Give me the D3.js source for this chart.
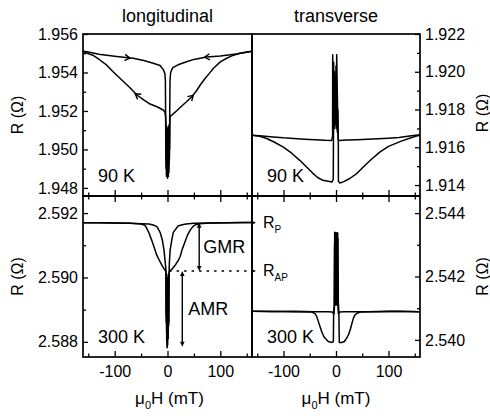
<!DOCTYPE html>
<html>
<head>
<meta charset="utf-8">
<script src="https://cdn.jsdelivr.net/npm/d3@7"></script>
<style>
  body { margin: 0; background: #fff; }
  text { font-family: "Liberation Sans", Arial, Helvetica, sans-serif; fill: #000; }
</style>
</head>
<body>
<script>
var w = 490, h = 418;
// panel frame edges
var xa = 83, xb = 252, xc = 420;
var ya = 34, yb = 196, yc = 357;

var fieldDomain = [-160, 160];
var fieldMajor = [-100, 0, 100];
var fieldMinor = [-150, -50, 50, 150];

// field sweeps, [mu0H (mT), R (Ohm)]
var lon90Up = [[-160,1.95510],[-152,1.95508],[-130,1.95495],[-100,1.95484],[-75,1.95476],[-65,1.95474],[-45,1.95462],
  [-27,1.95448],[-14,1.95436],[-8,1.95415],[-5,1.95395],[-4,1.9536],[-3.5,1.9515],[-3,1.9490],[-2.5,1.9510],
  [-2,1.9486],[-1.5,1.9512],[-1,1.9487],[-0.5,1.9510],[0,1.9485],[0.5,1.9511],[1,1.9487],[1.5,1.9509],[2,1.9490],
  [2.5,1.9512],[3,1.9492],[3.5,1.9510],[4,1.9500],[4.6,1.9516],[6,1.95175],
  [8,1.95178],[15,1.95195],[27,1.95226],[36,1.95248],[46,1.95274],[55,1.95305],[62,1.95335],[70,1.95365],
  [80,1.95398],[87,1.95422],[100,1.95455],[112,1.95474],[125,1.95490],[137,1.95500],[150,1.95506],[160,1.95510]];
var lon90Down = [[160,1.95510],[150,1.95505],[130,1.95496],[100,1.95486],[74,1.95480],[50,1.95468],[36,1.95456],
  [20,1.95440],[10,1.95425],[6,1.95400],[4.8,1.9536],[4.2,1.9518],[3.7,1.9495],[3.2,1.9513],[2.7,1.9488],
  [2.2,1.9511],[1.7,1.9486],[1.2,1.9510],[0.7,1.9487],[0.2,1.9511],[-0.3,1.9486],[-0.8,1.9509],[-1.3,1.9489],
  [-1.8,1.9510],[-2.3,1.9494],[-2.8,1.9512],[-3.4,1.9517],[-5,1.95195],[-8,1.95205],
  [-20,1.95222],[-33,1.95236],[-45,1.95258],[-58,1.95283],[-70,1.95318],[-80,1.95344],[-92,1.95375],
  [-103,1.95404],[-115,1.95438],[-128,1.95465],[-140,1.95488],[-152,1.95500],[-160,1.95510]];

var tr90Up = [[-160,1.91664],[-140,1.91660],[-120,1.91655],[-100,1.91650],[-80,1.91647],[-60,1.91643],[-40,1.91640],
  [-20,1.91637],[-8,1.91636],[-6.5,1.9166],[-6.3,1.9209],[-5.5,1.9185],[-4.5,1.9205],[-3.5,1.9178],[-2.5,1.9200],
  [-1.5,1.9172],[-0.5,1.9195],[0.5,1.9170],[1.5,1.9190],[2.5,1.9168],[3.5,1.9180],[4.4,1.9165],[4.6,1.9142],
  [7.6,1.91411],[15,1.91418],[27,1.91436],[40,1.91462],[52,1.91496],[68,1.91538],[84,1.91576],[100,1.91605],
  [122,1.91630],[140,1.91648],[153,1.91659],[160,1.91664]];
var tr90Down = [[160,1.91666],[140,1.91660],[120,1.91652],[100,1.91648],[80,1.91645],[60,1.91642],[40,1.91640],
  [20,1.91638],[6,1.91636],[4,1.9164],[1.3,1.9209],[0.8,1.9180],[0,1.9203],[-1,1.9174],[-2,1.9198],[-3,1.9170],
  [-4,1.9190],[-4.8,1.9166],[-5.2,1.9143],[-8,1.91416],[-15,1.91420],[-25,1.91425],[-35,1.91440],[-44,1.91462],
  [-57,1.91498],[-69,1.91531],[-85,1.91570],[-101,1.91602],[-118,1.91628],[-131,1.91645],[-145,1.91658],[-160,1.91664]];

var lon300Up = [[-160,2.59170],[-130,2.59170],[-100,2.59169],[-70,2.59168],[-50,2.59167],[-35,2.59166],[-27,2.59163],
  [-20,2.59158],[-14,2.59140],[-10,2.59118],[-6.6,2.59085],[-4.5,2.59050],[-3,2.59025],[-2.5,2.5886],[-2,2.5901],
  [-1.5,2.5880],[-1,2.5900],[-0.5,2.58785],[0,2.5899],[0.5,2.5881],[1,2.5900],[1.5,2.5884],[2,2.5901],
  [2.5,2.5886],[3,2.59010],[3.5,2.59018],[8,2.59025],
  [14,2.59037],[20,2.59052],[24,2.59065],[28,2.59088],[33,2.59110],[38,2.59132],[43,2.59147],[48,2.59158],
  [52,2.59163],[60,2.59167],[80,2.59169],[110,2.59170],[140,2.59171],[160,2.59171]];
var lon300Down = [[160,2.59171],[120,2.59170],[80,2.59169],[50,2.59168],[35,2.59166],[28,2.59164],[20,2.59160],
  [11,2.59140],[8,2.59115],[5,2.59085],[3.5,2.59045],[2.8,2.5900],[2.3,2.5885],[1.8,2.5901],[1.3,2.5881],
  [0.8,2.5900],[0.3,2.5879],[-0.2,2.5900],[-0.7,2.58782],[-1.2,2.5899],[-1.7,2.5883],[-2.2,2.5901],[-2.7,2.5888],
  [-3,2.59018],[-7,2.59028],[-11,2.59039],[-16,2.59055],
  [-20.5,2.59070],[-25,2.59092],[-30,2.59116],[-35,2.59138],[-40,2.59155],[-43,2.59162],[-50,2.59166],
  [-70,2.59168],[-100,2.59169],[-130,2.59170],[-160,2.59170]];

var tr300Up = [[-160,2.54090],[-120,2.54089],[-80,2.54090],[-40,2.54089],[-15,2.54089],[-7,2.54088],[-4,2.54082],
  [-3,2.54100],[-2.5,2.54340],[-1.8,2.5412],[-1.2,2.54335],[-0.6,2.5412],[0,2.54338],[0.6,2.5413],[1.2,2.54336],
  [1.8,2.5412],[2.4,2.5433],[3,2.5412],[3.6,2.5432],[4.4,2.5412],[5.5,2.54085],[6.3,2.53992],[11,2.53992],[16,2.53995],[20,2.54005],[24,2.54017],
  [27,2.54031],[30,2.54050],[33,2.54068],[36,2.54078],[40,2.54084],[46,2.54088],[60,2.54089],[100,2.54090],[160,2.54089]];
var tr300Down = [[160,2.54089],[120,2.54090],[80,2.54089],[40,2.54089],[15,2.54089],[7,2.54088],[4.5,2.54082],
  [3.8,2.54100],[3.2,2.54338],[2.6,2.5412],[2,2.54335],[1.4,2.5411],[0.8,2.54337],[0.2,2.5412],[-0.4,2.54332],
  [-1,2.5411],[-1.6,2.5433],[-2.2,2.5411],[-2.8,2.5430],
  [-3.4,2.5411],[-4.5,2.54086],[-5,2.53994],[-8,2.53992],[-14.6,2.53995],[-19,2.54002],[-23,2.54010],[-27,2.54025],
  [-30.5,2.54042],[-34,2.54060],[-37,2.54075],[-40,2.54083],[-46,2.54088],[-80,2.54089],[-120,2.54090],[-160,2.54090]];

// y ticks
var lon90Ticks = [1.948, 1.950, 1.952, 1.954, 1.956];
var lon90Minor = [1.949, 1.951, 1.953, 1.955];
var tr90Ticks = [1.914, 1.916, 1.918, 1.920, 1.922];
var tr90Minor = [1.915, 1.917, 1.919, 1.921];
var lon300Ticks = [2.588, 2.590, 2.592];
var lon300Minor = [2.589, 2.591];
var tr300Ticks = [2.540, 2.542, 2.544];
var tr300Minor = [2.541, 2.543];

// sweep direction arrows on the 90 K longitudinal loop
var lonArrows = [['up', -75], ['up', 46], ['down', 74], ['down', -58]];

// GMR / AMR annotation levels
var rP = 2.5917, rAP = 2.5902, rMin = 2.58785;
var gmrField = 60, amrField = 28, dashStart = 3;

var panels = [
  {up: lon90Up, down: lon90Down, dom: [1.94758, 1.956], ticks: lon90Ticks, minor: lon90Minor, col: 0, row: 0, temp: '90 K'},
  {up: tr90Up, down: tr90Down, dom: [1.91342, 1.922], ticks: tr90Ticks, minor: tr90Minor, col: 1, row: 0, temp: '90 K'},
  {up: lon300Up, down: lon300Down, dom: [2.58753, 2.59253], ticks: lon300Ticks, minor: lon300Minor, col: 0, row: 1, temp: '300 K'},
  {up: tr300Up, down: tr300Down, dom: [2.53946, 2.54454], ticks: tr300Ticks, minor: tr300Minor, col: 1, row: 1, temp: '300 K'}
];

var svg = d3.select("body").append("svg")
  .attr("width", w)
  .attr("height", h);

function styleAxis(g) {
  g.select('.domain').remove();
  g.selectAll('line').attr('stroke', '#000').attr('stroke-width', 1.3);
  g.selectAll('text').attr('font-size', 16).attr('fill', '#000')
    .style('font-family', '"Liberation Sans", Arial, sans-serif');
}

panels.forEach(function (p) {
  var left = p.col ? xb : xa, right = p.col ? xc : xb;
  var top = p.row ? yb : ya, bottom = p.row ? yc : yb;
  var xs = d3.scaleLinear().domain(fieldDomain).range([left, right]);
  var ys = d3.scaleLinear().domain(p.dom).range([bottom, top]);
  p.x = xs; p.y = ys;

  var g = svg.append('g');

  // y axis on the outer side, ticks pointing inward
  var yMaj = (p.col ? d3.axisRight(ys) : d3.axisLeft(ys))
    .tickValues(p.ticks).tickSize(-5).tickPadding(5).tickFormat(d3.format('.3f'));
  var yMin = (p.col ? d3.axisRight(ys) : d3.axisLeft(ys))
    .tickValues(p.minor).tickSize(-3).tickFormat('');
  var yx = p.col ? right : left;
  g.append('g').attr('transform', 'translate(' + yx + ',0)').call(yMaj).call(styleAxis);
  g.append('g').attr('transform', 'translate(' + yx + ',0)').call(yMin).call(styleAxis);

  // x ticks on the bottom edge
  var xMaj = d3.axisBottom(xs).tickValues(fieldMajor).tickSize(-6).tickPadding(9)
    .tickFormat(p.row ? function (d) { return String(d); } : '');
  var xMin = d3.axisBottom(xs).tickValues(fieldMinor).tickSize(-3.5).tickFormat('');
  g.append('g').attr('transform', 'translate(0,' + bottom + ')').call(xMaj).call(styleAxis);
  g.append('g').attr('transform', 'translate(0,' + bottom + ')').call(xMin).call(styleAxis);
  if (p.row) {
    g.append('g').attr('transform', 'translate(0,' + top + ')')
      .call(d3.axisTop(xs).tickValues(fieldMajor).tickSize(-6).tickFormat('')).call(styleAxis);
    g.append('g').attr('transform', 'translate(0,' + top + ')')
      .call(d3.axisTop(xs).tickValues(fieldMinor).tickSize(-3.5).tickFormat('')).call(styleAxis);
  }

  var line = d3.line().x(function (d) { return xs(d[0]); }).y(function (d) { return ys(d[1]); });
  g.selectAll('path.curve')
    .data([p.up, p.down])
    .join('path')
    .attr('class', 'curve')
    .attr('d', line)
    .attr('fill', 'none')
    .attr('stroke', '#000')
    .attr('stroke-width', 1.5)
    .attr('stroke-linejoin', 'round');

  g.append('rect')
    .attr('x', left).attr('y', top)
    .attr('width', right - left).attr('height', bottom - top)
    .attr('fill', 'none').attr('stroke', '#000').attr('stroke-width', 1.7);

  g.append('text')
    .attr('x', left + 15).attr('y', bottom - 14)
    .attr('font-size', 18)
    .text(p.temp);
});

// open chevrons showing the sweep direction
function chevron(pts, hAt, xs, ys) {
  for (var i = 0; i < pts.length - 1; i++) {
    var a = pts[i], b = pts[i + 1];
    if ((a[0] - hAt) * (b[0] - hAt) <= 0 && a[0] !== b[0]) {
      var t = (hAt - a[0]) / (b[0] - a[0]);
      var ax = xs(a[0]), ay = ys(a[1]), bx = xs(b[0]), by = ys(b[1]);
      var px = ax + t * (bx - ax), py = ay + t * (by - ay);
      var ang = Math.atan2(by - ay, bx - ax);
      var L = 6, s = 0.55;
      var tx = px + 2 * Math.cos(ang), ty = py + 2 * Math.sin(ang);
      svg.append('path')
        .attr('d', 'M' + (tx - L * Math.cos(ang - s)) + ',' + (ty - L * Math.sin(ang - s)) +
          'L' + tx + ',' + ty +
          'L' + (tx - L * Math.cos(ang + s)) + ',' + (ty - L * Math.sin(ang + s)))
        .attr('fill', 'none').attr('stroke', '#000').attr('stroke-width', 1.4);
      return;
    }
  }
}
lonArrows.forEach(function (a) {
  var p = panels[0];
  chevron(a[0] === 'up' ? p.up : p.down, a[1], p.x, p.y);
});

// filled arrow head with tip at (x, y) pointing along angle
function head(x, y, ang) {
  var L = 5, hw = 2.3;
  var bx = x - L * Math.cos(ang), by = y - L * Math.sin(ang);
  svg.append('path')
    .attr('d', 'M' + x + ',' + y +
      'L' + (bx + hw * Math.sin(ang)) + ',' + (by - hw * Math.cos(ang)) +
      'L' + (bx - hw * Math.sin(ang)) + ',' + (by + hw * Math.cos(ang)) + 'Z')
    .attr('fill', '#000');
}

var pl = panels[2], pr = panels[3];
var xl = pl.x, yl = pl.y;
var tipX = pr.x(fieldDomain[0]) + 4;

// R_P continuation arrow and dashed R_AP level
svg.append('line')
  .attr('x1', xl(fieldDomain[1])).attr('x2', tipX - 3)
  .attr('y1', yl(rP)).attr('y2', yl(rP))
  .attr('stroke', '#000').attr('stroke-width', 1.4);
head(tipX, yl(rP), 0);
svg.append('line')
  .attr('x1', xl(dashStart)).attr('x2', tipX - 3)
  .attr('y1', yl(rAP)).attr('y2', yl(rAP))
  .attr('stroke', '#000').attr('stroke-width', 1.6)
  .attr('stroke-dasharray', '2.5,5');
head(tipX, yl(rAP), 0);

// GMR and AMR double arrows
function vArrow(hv, r1, r2) {
  var x = xl(hv), ya1 = yl(r1), ya2 = yl(r2);
  svg.append('line')
    .attr('x1', x).attr('x2', x).attr('y1', ya1 + 3).attr('y2', ya2 - 3)
    .attr('stroke', '#000').attr('stroke-width', 1.4);
  head(x, ya1, -Math.PI / 2);
  head(x, ya2, Math.PI / 2);
}
vArrow(gmrField, rP, rAP);
vArrow(amrField, rAP, rMin);

svg.append('text').attr('x', xl(gmrField) + 4).attr('y', yl((rP + rAP) / 2) + 6)
  .attr('font-size', 18).text('GMR');
svg.append('text').attr('x', xl(amrField) + 6).attr('y', yl((rAP + rMin) / 2) + 6)
  .attr('font-size', 18).text('AMR');

function subLabel(x, y, main, sub) {
  var t = svg.append('text').attr('x', x).attr('y', y).attr('font-size', 16);
  t.append('tspan').text(main);
  t.append('tspan').attr('dy', 5).attr('font-size', 10).text(sub);
}
subLabel(tipX + 7, yl(rP) + 5, 'R', 'P');
subLabel(tipX + 7, yl(rAP) + 5, 'R', 'AP');

// column titles
svg.append('text').attr('x', (xa + xb) / 2).attr('y', 22).attr('text-anchor', 'middle')
  .attr('font-size', 18).text('longitudinal');
svg.append('text').attr('x', (xb + xc) / 2).attr('y', 22).attr('text-anchor', 'middle')
  .attr('font-size', 18).text('transverse');

// axis titles
[[23, (ya + yb) / 2], [23, (yb + yc) / 2], [488, (ya + yb) / 2 - 2], [488, (yb + yc) / 2]].forEach(function (c) {
  var t = svg.append('text')
    .attr('transform', 'translate(' + c[0] + ',' + c[1] + ') rotate(-90)')
    .attr('text-anchor', 'middle')
    .attr('font-size', 16);
  t.text('R (\u03A9)');
});
[(xa + xb) / 2 + 2, (xb + xc) / 2].forEach(function (cx) {
  var t = svg.append('text').attr('x', cx).attr('y', 404).attr('text-anchor', 'middle').attr('font-size', 17);
  t.append('tspan').text('\u03BC');
  t.append('tspan').attr('dy', 5).attr('font-size', 11).text('0');
  t.append('tspan').attr('dy', -5).text('H (mT)');
});
</script>
</body>
</html>
